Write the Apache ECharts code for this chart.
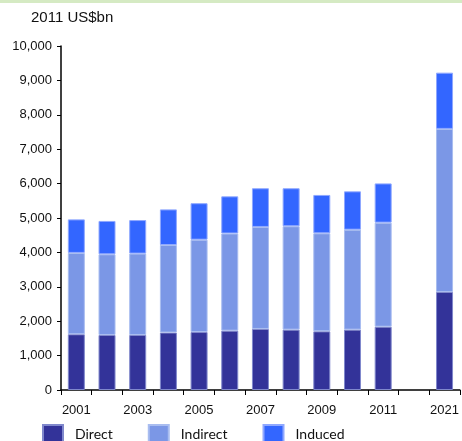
<!DOCTYPE html>
<html>
<head>
<meta charset="utf-8">
<script src="https://cdn.jsdelivr.net/npm/echarts@6/dist/echarts.min.js"></script>
<style>
  html, body { margin: 0; padding: 0; background: #fff; }
  #chart { width: 462px; height: 441px; }
</style>
</head>
<body>
<div id="chart"></div>
<script>
// data (segment values, stacked)
const years = ['2001', '2002', '2003', '2004', '2005', '2006', '2007', '2008', '2009', '2010', '2011', '', '2021']
const direct = [1620, 1600, 1600, 1670, 1685, 1725, 1775, 1755, 1705, 1755, 1840, null, 2850]
const indirect = [2365, 2345, 2365, 2545, 2685, 2825, 2965, 3005, 2850, 2905, 3025, null, 4740]
const induced = [975, 970, 975, 1035, 1060, 1080, 1125, 1105, 1115, 1115, 1140, null, 1635]

let chart = echarts.init(document.getElementById('chart'))

function barSeries (name, data, color, edge) {
  return {
    name: name,
    type: 'bar',
    stack: 'total',
    barWidth: 17,
    data: data,
    itemStyle: { color: color, borderColor: edge, borderWidth: 1 }
  }
}

chart.setOption({
  animation: false,
  textStyle: { fontFamily: 'Liberation Sans, Arial, sans-serif' },
  graphic: [
    { type: 'rect', left: 0, top: 0, shape: { width: 462, height: 3 }, style: { fill: '#d5eac3' } }
  ],
  title: {
    text: '2011 US$bn',
    left: 31,
    top: 10,
    padding: 0,
    textStyle: { fontSize: 15, fontWeight: 'normal', color: '#111' }
  },
  legend: {
    left: 42,
    top: 424,
    padding: 0,
    itemWidth: 20,
    itemHeight: 18,
    itemGap: 35,
    icon: 'rect',
    textStyle: { fontSize: 14, color: '#111', fontFamily: 'Lato, sans-serif', padding: [0, 0, 0, 7] },
    data: ['Direct', 'Indirect', 'Induced']
  },
  grid: { left: 61, right: 2, top: 46, bottom: 51 },
  xAxis: {
    type: 'category',
    data: years,
    axisLine: { lineStyle: { color: '#000', width: 1.5 } },
    axisTick: { show: true, length: 5, interval: 0, lineStyle: { color: '#000' } },
    axisLabel: { interval: 1, color: '#111', fontSize: 13, margin: 14 }
  },
  yAxis: {
    type: 'value',
    min: 0,
    max: 10000,
    interval: 1000,
    axisLine: { show: true, lineStyle: { color: '#000', width: 1.5 } },
    axisTick: { show: true, length: 4, lineStyle: { color: '#000' } },
    splitLine: { show: false },
    axisLabel: {
      color: '#111',
      fontSize: 13,
      margin: 9,
      formatter: v => v.toLocaleString('en-US')
    }
  },
  series: [
    barSeries('Direct', direct, '#333399', '#8088cc'),
    barSeries('Indirect', indirect, '#7b97e6', '#a9bdf0'),
    barSeries('Induced', induced, '#3366ff', '#8fa8ff')
  ]
})
</script>
</body>
</html>
